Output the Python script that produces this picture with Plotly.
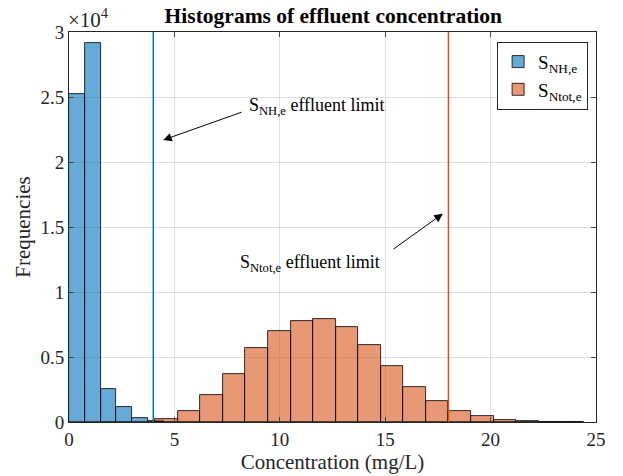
import numpy as np
import plotly.graph_objects as go

# ---- data ----
nh_bin_start = 0.0
nh_bin_width = 0.75
nh_counts = [25250, 29160, 2540, 1144, 300, 60]

ntot_bin_start = 4.09
ntot_bin_width = 1.07
ntot_counts = [200, 862, 2113, 3661, 5721, 6995, 7780, 7910, 7300, 5896,
               4294, 2723, 1602, 839, 435, 150, 50, 25, 15]

nh_limit = 4
ntot_limit = 18

x_ticks = [0, 5, 10, 15, 20, 25]
y_ticks = [0, 5000, 10000, 15000, 20000, 25000, 30000]
y_ticklabels = ["0", "0.5", "1", "1.5", "2", "2.5", "3"]

FONT = "Liberation Serif"

nh_centers = nh_bin_start + nh_bin_width * (np.arange(len(nh_counts)) + 0.5)
ntot_centers = ntot_bin_start + ntot_bin_width * (np.arange(len(ntot_counts)) + 0.5)

fig = go.Figure()
fig.add_trace(go.Bar(
    x=nh_centers, y=nh_counts, width=nh_bin_width,
    marker=dict(color="rgba(0,114,189,0.6)", line=dict(color="black", width=0.8)),
    name="S<sub>NH,e</sub>"))
fig.add_trace(go.Bar(
    x=ntot_centers, y=ntot_counts, width=ntot_bin_width,
    marker=dict(color="rgba(217,83,25,0.6)", line=dict(color="black", width=0.8)),
    name="S<sub>Ntot,e</sub>"))

fig.add_vline(x=nh_limit, line=dict(color="#0072BD", width=1.5))
fig.add_vline(x=ntot_limit, line=dict(color="#D95319", width=1.5))

# arrows
fig.add_annotation(x=4.47, y=21690, ax=8.26, ay=23875, xref="x", yref="y",
                   axref="x", ayref="y", text="", showarrow=True,
                   arrowhead=2, arrowsize=1.7, arrowwidth=1, arrowcolor="black")
fig.add_annotation(x=17.73, y=16020, ax=15.32, ay=13220, xref="x", yref="y",
                   axref="x", ayref="y", text="", showarrow=True,
                   arrowhead=2, arrowsize=1.7, arrowwidth=1, arrowcolor="black")
# texts
fig.add_annotation(x=8.45, y=24300, xref="x", yref="y", xanchor="left", yanchor="middle",
                   text="S<sub>NH,e</sub> effluent limit", showarrow=False,
                   font=dict(family=FONT, size=18, color="black"))
fig.add_annotation(x=8.0, y=12200, xref="x", yref="y", xanchor="left", yanchor="middle",
                   text="S<sub>Ntot,e</sub> effluent limit", showarrow=False,
                   font=dict(family=FONT, size=18, color="black"))
# exponent
fig.add_annotation(x=-0.005, y=1, xref="paper", yref="paper", xanchor="left", yanchor="bottom",
                   text="×10<sup>4</sup>", showarrow=False, yshift=-2,
                   font=dict(family=FONT, size=21, color="#262626"))

fig.update_layout(
    width=623, height=476,
    margin=dict(l=69, r=27, t=32, b=51),
    paper_bgcolor="white", plot_bgcolor="white",
    barmode="overlay",
    bargap=0,
    title=dict(text="<b>Histograms of effluent concentration</b>", x=0.535, xanchor="center",
               y=0.968, yanchor="middle",
               font=dict(family=FONT, size=21.5, color="black")),
    font=dict(family=FONT, size=19, color="#262626"),
    legend=dict(x=0.985, y=0.975, xanchor="right", yanchor="top",
                bgcolor="white", bordercolor="#262626", borderwidth=1,
                font=dict(family=FONT, size=19, color="black"),
                tracegroupgap=2),
    showlegend=True,
)
fig.update_xaxes(range=[0, 25], tickvals=x_ticks, ticks="inside", ticklen=5,
                 showline=True, linecolor="#262626", linewidth=1, mirror="ticks",
                 showgrid=True, gridcolor="#dfdfdf", zeroline=False,
                 tickfont=dict(family=FONT, size=19, color="#262626"),
                 title=dict(text="Concentration (mg/L)", standoff=0,
                            font=dict(family=FONT, size=21, color="#262626")))
fig.update_yaxes(range=[0, 30000], tickvals=y_ticks, ticktext=y_ticklabels,
                 ticks="inside", ticklen=5,
                 showline=True, linecolor="#262626", linewidth=1, mirror="ticks",
                 showgrid=True, gridcolor="#dfdfdf", zeroline=False,
                 tickfont=dict(family=FONT, size=19, color="#262626"),
                 title=dict(text="Frequencies", standoff=4,
                            font=dict(family=FONT, size=21, color="#262626")))

fig.write_html("out.html", config={"displayModeBar": False},
               post_script="document.body.style.margin='0px';")
